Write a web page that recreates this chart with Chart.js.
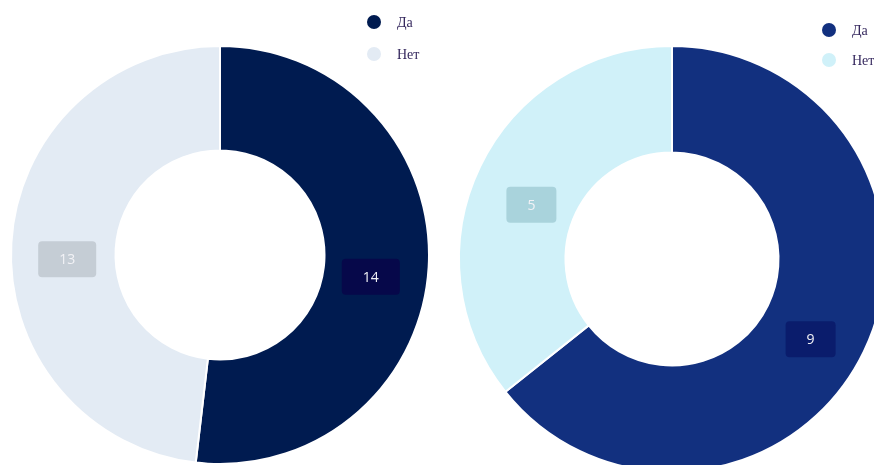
<!DOCTYPE html>
<html lang="ru">
<head>
<meta charset="utf-8">
<script src="https://cdn.jsdelivr.net/npm/chart.js@4.4.1/dist/chart.umd.min.js"></script>
<style>
  html, body { margin: 0; padding: 0; background: #ffffff; width: 874px; height: 465px; overflow: hidden; }
  .box { position: absolute; top: 0; }
  #leftBox { left: 0; width: 440px; height: 465px; }
  #rightBox { left: 450px; width: 444px; height: 480px; }
</style>
</head>
<body>
<div class="box" id="leftBox"><canvas id="left"></canvas></div>
<div class="box" id="rightBox"><canvas id="right"></canvas></div>
<script>
// Answers for both questions
const categories = ['Да', 'Нет'];
const leftValues = [14, 13];
const rightValues = [9, 5];

const leftColors = ['#001b50', '#e3ebf4'];
const leftTagColors = ['#06084a', '#c5cdd5'];
const rightColors = ['#12307f', '#d0f1f9'];
const rightTagColors = ['#0a1c6c', '#a9d3dc'];

// Rounded value tags placed on each ring segment
const valueTags = {
  id: 'valueTags',
  afterDatasetsDraw(chart, args, opts) {
    const ctx = chart.ctx;
    const meta = chart.getDatasetMeta(0);
    const ds = chart.data.datasets[0];
    ctx.save();
    ctx.font = '14px "Open Sans", sans-serif';
    ctx.textAlign = 'center';
    ctx.textBaseline = 'middle';
    meta.data.forEach((arc, i) => {
      const p = arc.getProps(['x', 'y', 'startAngle', 'endAngle', 'innerRadius', 'outerRadius'], true);
      const mid = (p.startAngle + p.endAngle) / 2;
      const r = (p.innerRadius + p.outerRadius) / 2 * 0.97;
      const cx = p.x - 1 + Math.cos(mid) * r;
      const cy = p.y + Math.sin(mid) * r + 13;
      const text = String(ds.data[i]);
      const w = ctx.measureText(text).width + 42;
      const h = 36;
      ctx.fillStyle = opts.colors[i];
      ctx.beginPath();
      ctx.roundRect(cx - w / 2, cy - h / 2, w, h, 4);
      ctx.fill();
      ctx.fillStyle = '#f2f2f6';
      ctx.fillText(text, cx, cy + 1);
    });
    ctx.restore();
  }
};

// Small dot legend in the upper right of each chart
const dotLegend = {
  id: 'dotLegend',
  afterDraw(chart, args, opts) {
    const ctx = chart.ctx;
    const ds = chart.data.datasets[0];
    ctx.save();
    ctx.font = '14px "Liberation Serif", "DejaVu Serif", serif';
    ctx.textBaseline = 'middle';
    ctx.textAlign = 'left';
    chart.data.labels.forEach((lab, i) => {
      const y = opts.y + i * opts.gap;
      ctx.fillStyle = ds.backgroundColor[i];
      ctx.beginPath();
      ctx.arc(opts.x, y, 7, 0, Math.PI * 2);
      ctx.fill();
      ctx.fillStyle = '#35285e';
      ctx.fillText(lab, opts.x + 23, y + 1);
    });
    ctx.restore();
  }
};

function makeDonut(id, values, colors, tagColors, padding, legendPos) {
  return new Chart(document.getElementById(id), {
    type: 'doughnut',
    data: {
      labels: categories,
      datasets: [{
        data: values,
        backgroundColor: colors,
        borderColor: '#ffffff',
        borderWidth: 2,
        hoverOffset: 0
      }]
    },
    options: {
      responsive: true,
      maintainAspectRatio: false,
      animation: false,
      cutout: '50%',
      layout: { padding: padding },
      plugins: {
        legend: { display: false },
        tooltip: { enabled: false },
        valueTags: { colors: tagColors },
        dotLegend: legendPos
      }
    },
    plugins: [valueTags, dotLegend]
  });
}

makeDonut('left', leftValues, leftColors, leftTagColors,
  { top: 45, left: 10, right: 10, bottom: 0 }, { x: 374, y: 22, gap: 32 });
makeDonut('right', rightValues, rightColors, rightTagColors,
  { top: 45, left: 8, right: 8, bottom: 7 }, { x: 379, y: 30, gap: 30 });
</script>
</body>
</html>
